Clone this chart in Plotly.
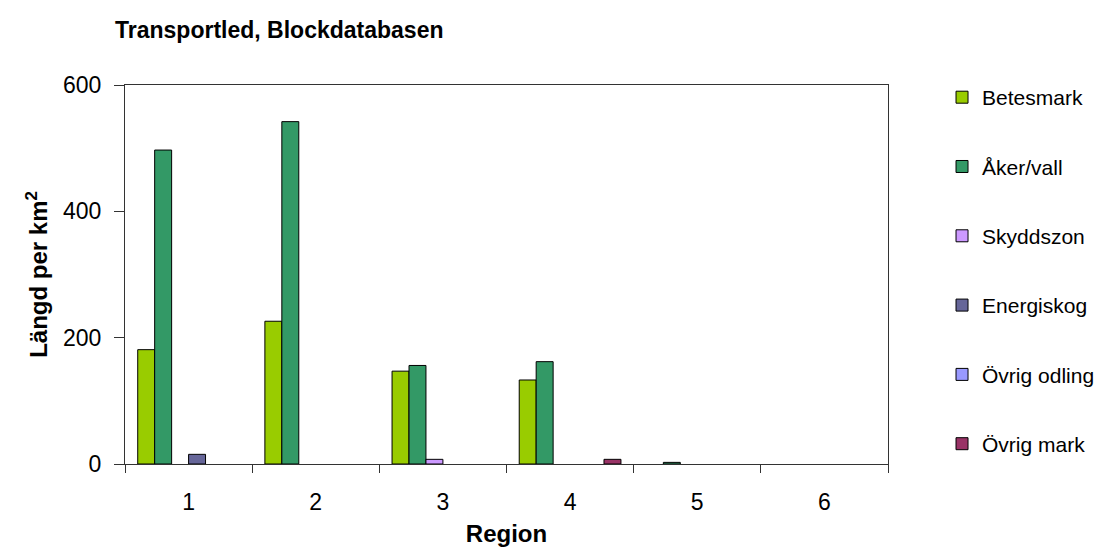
import plotly.graph_objects as go

regions = ["1", "2", "3", "4", "5", "6"]
series_names = ["Betesmark", "Åker/vall", "Skyddszon", "Energiskog", "Övrig odling", "Övrig mark"]
betesmark = [181, 226, 147, 133, None, None]
aker_vall = [497, 542, 156, 162, 2.6, None]
skyddszon = [None, None, 7.4, None, None, None]
energiskog = [15.3, None, None, None, None, None]
ovrig_odling = [None, None, None, None, None, None]
ovrig_mark = [None, None, None, 7.4, None, None]
colors = ["#99CC00", "#339966", "#CC99FF", "#666699", "#9999FF", "#993366"]

values = [betesmark, aker_vall, skyddszon, energiskog, ovrig_odling, ovrig_mark]

fig = go.Figure()
for i, (name, vals, col) in enumerate(zip(series_names, values, colors)):
    fig.add_trace(go.Bar(
        x=regions, y=vals, name=name, legendgroup=f"g{i}",
        marker=dict(color=col, line=dict(color="black", width=1)),
    ))

font = "Liberation Sans, Arial, sans-serif"
W, H = 1097, 539
fig.update_layout(
    width=W, height=H,
    paper_bgcolor="white", plot_bgcolor="white",
    margin=dict(l=117, r=217, t=77, b=83, autoexpand=False),
    barmode="group", bargap=0.2, bargroupgap=0,
    font=dict(family=font, size=22, color="black"),
    title=dict(text="<b>Transportled, Blockdatabasen</b>", x=107 / W, xanchor="left",
               y=1 - 22 / H, yanchor="middle", font=dict(size=23)),
    legend=dict(x=1.0708, xanchor="left", y=1.021, yanchor="top",
                font=dict(size=21), tracegroupgap=39, itemwidth=30, maxheight=520),
    showlegend=True,
)
fig.update_xaxes(
    type="category", showline=True, linecolor="#333", linewidth=1, mirror=True,
    ticks="outside", ticklen=8, tickcolor="#333", tickson="boundaries",
    tickfont=dict(size=23), ticklabelstandoff=17,
    title=dict(text="<b>Region</b>", font=dict(size=24), standoff=21),
    showgrid=False,
)
fig.update_yaxes(
    range=[0, 600], tickvals=[0, 200, 400, 600],
    showline=True, linecolor="#333", linewidth=1, mirror=True,
    ticks="outside", ticklen=10, tickcolor="#333", showgrid=False, zeroline=False,
    tickfont=dict(size=23), ticklabelstandoff=8,
    title=dict(text="<b>Längd per km<sup>2</sup></b>", font=dict(size=24), standoff=8),
)
fig.write_html("out.html")
